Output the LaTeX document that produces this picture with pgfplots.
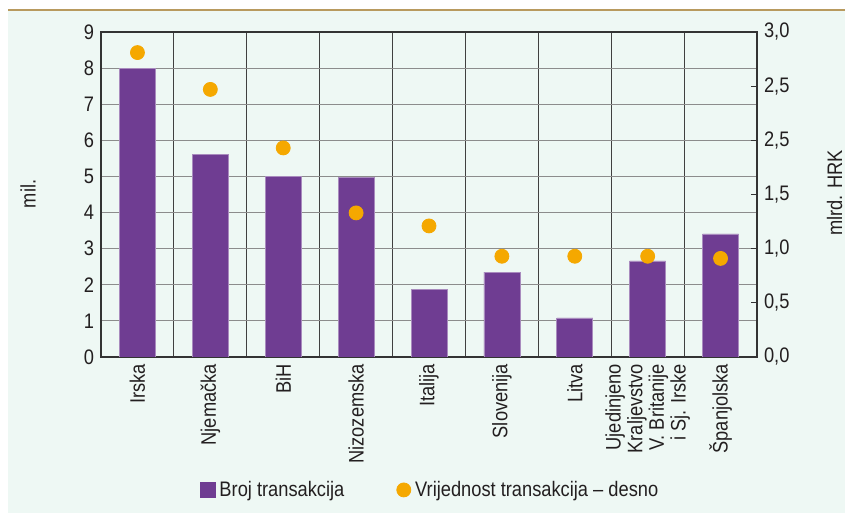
\documentclass[border=0pt]{standalone}
\usepackage{fontspec}
\setmainfont{Liberation Sans}[FakeStretch=0.87]
\usepackage{pgfplots}
\usepackage{pgfplotstable}
\pgfplotsset{compat=1.18}

\definecolor{barc}{RGB}{111,61,146}
\definecolor{dotc}{RGB}{245,168,0}
\definecolor{bgc}{RGB}{238,248,244}
\definecolor{topc}{RGB}{184,154,94}
\definecolor{txtc}{RGB}{35,31,32}

% broj: mil. (left), vrijednost: mlrd. HRK (right)
\pgfplotstableread{
x broj vrijednost
0 8.00 2.81
1 5.60 2.47
2 5.01 1.93
3 4.98 1.33
4 1.88 1.21
5 2.35 0.93
6 1.08 0.93
7 2.66 0.93
8 3.41 0.91
}\data

\newcommand{\lblfont}{\fontsize{10.5}{10.8}\selectfont}

\begin{document}
\begin{tikzpicture}[x=1pt,y=1pt]
\useasboundingbox (0,0) rectangle (422.5,256.5);
\fill[white] (0,0) rectangle (422.5,256.5);
\fill[bgc] (4,0) rectangle (422.5,251.5);
\draw[topc, line width=0.8pt] (4,251.5) -- (422.5,251.5);

\begin{axis}[
  at={(50.5pt,78pt)}, anchor=south west,
  scale only axis, width=328pt, height=162.5pt,
  xmin=-0.5, xmax=8.5, ymin=0, ymax=9,
  ybar, bar width=18pt,
  xtick={0,...,8},
  xticklabels={Irska, Njemačka, BiH, Nizozemska, Italija, Slovenija, Litva,
    {Ujedinjeno\\Kraljevstvo\\V. Britanije\\i Sj. Irske}, Španjolska},
  minor xtick={0.5,1.5,2.5,3.5,4.5,5.5,6.5,7.5},
  xminorgrids, minor grid style={draw=black!75, line width=0.6pt},
  ytick={0,...,9}, ymajorgrids,
  major grid style={draw=black!45, line width=0.6pt},
  major tick length=0pt, minor tick length=0pt,
  axis line style={draw=black!80, line width=0.8pt},
  tick label style={font=\lblfont, text=txtc},
  xticklabel style={rotate=90, anchor=east, align=right},
  /pgf/number format/assume math mode=true,
]
\addplot[fill=barc, draw=barc!60!white, line width=0.3pt] table[x=x, y=broj] {\data};
\end{axis}

\begin{axis}[
  at={(50.5pt,78pt)}, anchor=south west,
  scale only axis, width=328pt, height=162.5pt,
  xmin=-0.5, xmax=8.5, ymin=0, ymax=3,
  axis x line=none, axis y line*=right,
  ytick={0,0.5,1,1.5,2,2.5,3},
  yticklabels={{0,0},{0,5},{1,0},{1,5},{2,5},{2,5},{3,0}},
  tick align=inside, major tick length=3pt,
  tick style={draw=black!80, line width=0.6pt},
  axis line style={draw=black!80, line width=0.8pt},
  tick label style={font=\lblfont, text=txtc},
  legend style={at={(0.503,-0.409)}, anchor=center, draw=none, fill=none,
    legend columns=2, font=\lblfont, text=txtc,
    /tikz/every even column/.append style={column sep=24pt}},
  legend cell align=left,
]
\addlegendimage{legend image code/.code={\fill[barc] (0pt,-3.75pt) rectangle (7.5pt,3.75pt);}}
\addlegendentry{Broj transakcija}
\addplot[only marks, mark=*, mark size=3.5pt, color=dotc,
  legend image code/.code={\fill[dotc] (3.5pt,0pt) circle (3.5pt);}]
  table[x=x, y=vrijednost] {\data};
\addlegendentry{Vrijednost transakcija -- desno}
\end{axis}

\node[rotate=90, font=\lblfont, text=txtc] at (14,159.5) {mil.};
\node[rotate=90, anchor=base, font=\lblfont, text=txtc] at (421,160) {mlrd. HRK};
\end{tikzpicture}
\end{document}
